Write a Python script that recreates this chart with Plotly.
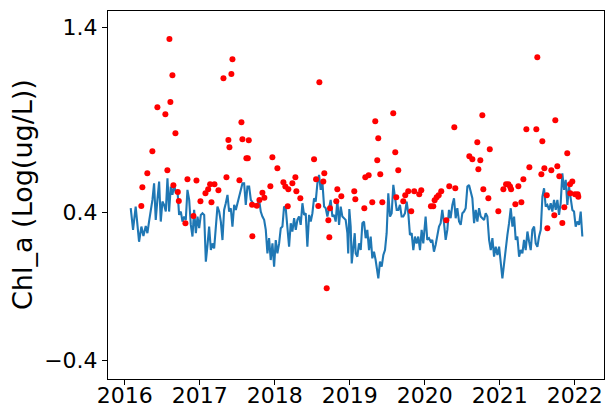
import pandas as pd
import plotly.graph_objects as go

# Blue line: time series (decimal year, value)
line_years = [
    2016.080, 2016.111, 2016.146, 2016.191, 2016.222, 2016.249, 2016.280, 2016.302, 2016.324, 2016.347,
    2016.369, 2016.391, 2016.413, 2016.435, 2016.458, 2016.480, 2016.502, 2016.524, 2016.547, 2016.569,
    2016.591, 2016.613, 2016.635, 2016.658, 2016.680, 2016.702, 2016.724, 2016.747, 2016.769, 2016.791,
    2016.813, 2016.835, 2016.858, 2016.880, 2016.902, 2016.924, 2016.947, 2016.969, 2016.991,
    2017.013, 2017.035, 2017.058, 2017.080, 2017.102, 2017.124, 2017.147, 2017.169, 2017.191, 2017.213,
    2017.235, 2017.258, 2017.280, 2017.302, 2017.324, 2017.346, 2017.369, 2017.391, 2017.413, 2017.435,
    2017.458, 2017.480, 2017.502, 2017.524, 2017.546, 2017.569, 2017.591, 2017.613, 2017.635, 2017.658,
    2017.680, 2017.702, 2017.724, 2017.746, 2017.769, 2017.791, 2017.813, 2017.835, 2017.858, 2017.880,
    2017.902, 2017.924, 2017.946, 2017.969,
    2017.991, 2018.013, 2018.035, 2018.058, 2018.080, 2018.102, 2018.124, 2018.146, 2018.169, 2018.191,
    2018.213, 2018.235, 2018.258, 2018.280, 2018.302, 2018.324, 2018.346, 2018.369, 2018.391, 2018.413,
    2018.435, 2018.458, 2018.480, 2018.502, 2018.524, 2018.546, 2018.569, 2018.591, 2018.613, 2018.635,
    2018.658, 2018.680, 2018.702, 2018.724, 2018.746, 2018.769, 2018.791, 2018.813, 2018.835, 2018.858,
    2018.880, 2018.902, 2018.924, 2018.946, 2018.969, 2018.980, 2018.995,
    2019.013, 2019.027, 2019.044, 2019.067, 2019.080, 2019.102, 2019.124, 2019.147, 2019.169, 2019.191,
    2019.213, 2019.235, 2019.258, 2019.280, 2019.302, 2019.324, 2019.346, 2019.369, 2019.382, 2019.404,
    2019.427, 2019.449, 2019.471, 2019.493, 2019.515, 2019.538, 2019.560, 2019.582, 2019.604, 2019.627,
    2019.649, 2019.671, 2019.693, 2019.715, 2019.738, 2019.760, 2019.782, 2019.804, 2019.827, 2019.849,
    2019.871, 2019.893, 2019.915, 2019.938, 2019.960, 2019.982,
    2020.013, 2020.035, 2020.058, 2020.080, 2020.102, 2020.124, 2020.146, 2020.169, 2020.191, 2020.213,
    2020.235, 2020.258, 2020.280, 2020.302, 2020.324, 2020.346, 2020.369, 2020.391, 2020.413, 2020.435,
    2020.458, 2020.480, 2020.502, 2020.524, 2020.546, 2020.569, 2020.591, 2020.613, 2020.635, 2020.658,
    2020.680, 2020.702, 2020.724, 2020.746, 2020.769, 2020.791, 2020.813, 2020.835, 2020.858, 2020.880,
    2020.902, 2020.924, 2020.946, 2020.969,
    2020.991, 2021.013, 2021.035, 2021.058, 2021.080, 2021.102, 2021.124, 2021.147, 2021.169, 2021.191,
    2021.213, 2021.235, 2021.258, 2021.280, 2021.302, 2021.324, 2021.346, 2021.369, 2021.391, 2021.413,
    2021.435, 2021.458, 2021.480, 2021.502, 2021.524, 2021.547, 2021.569, 2021.591, 2021.613, 2021.635,
    2021.658, 2021.680, 2021.702, 2021.724, 2021.747, 2021.769, 2021.791, 2021.813, 2021.835, 2021.858,
    2021.880, 2021.902, 2021.924, 2021.947, 2021.969, 2021.991, 2022.013, 2022.035, 2022.058, 2022.080,
    2022.102,
]
line_vals = [
    0.424, 0.307, 0.433, 0.243, 0.325, 0.274, 0.328, 0.289, 0.352, 0.415,
    0.469, 0.559, 0.361, 0.469, 0.568, 0.352, 0.460, 0.442, 0.406, 0.586,
    0.406, 0.541, 0.496, 0.550, 0.505, 0.523, 0.388, 0.406, 0.352, 0.379,
    0.361, 0.523, 0.469, 0.334, 0.271, 0.415, 0.289, 0.379, 0.316,
    0.388, 0.397, 0.388, 0.135, 0.225, 0.325, 0.198, 0.234, 0.207, 0.325,
    0.433, 0.406, 0.352, 0.252, 0.415, 0.451, 0.496, 0.406, 0.424, 0.325,
    0.442, 0.415, 0.451, 0.478, 0.523, 0.559, 0.559, 0.442, 0.541, 0.541,
    0.469, 0.451, 0.442, 0.433, 0.442, 0.469, 0.406, 0.379, 0.361, 0.307,
    0.180, 0.262, 0.144, 0.234,
    0.108, 0.252, 0.180, 0.234, 0.316, 0.325, 0.433, 0.424, 0.316, 0.216,
    0.343, 0.298, 0.370, 0.307, 0.361, 0.379, 0.334, 0.451, 0.388, 0.397,
    0.216, 0.388, 0.352, 0.397, 0.478, 0.460, 0.559, 0.604, 0.523, 0.568,
    0.433, 0.424, 0.379, 0.424, 0.469, 0.379, 0.388, 0.352, 0.469, 0.334,
    0.433, 0.379, 0.370, 0.361, 0.289, 0.180, 0.420,
    0.325, 0.126, 0.216, 0.289, 0.180, 0.162, 0.234, 0.198, 0.343, 0.352,
    0.262, 0.307, 0.198, 0.271, 0.153, 0.189, 0.144, 0.090, 0.045, 0.135,
    0.108, 0.171, 0.198, 0.289, 0.505, 0.379, 0.397, 0.550, 0.487, 0.415,
    0.415, 0.442, 0.379, 0.379, 0.397, 0.460, 0.397, 0.280, 0.289, 0.198,
    0.271, 0.234, 0.271, 0.198, 0.307, 0.234,
    0.379, 0.253, 0.262, 0.244, 0.253, 0.189, 0.225, 0.289, 0.325, 0.343,
    0.415, 0.343, 0.253, 0.307, 0.415, 0.370, 0.442, 0.478, 0.370, 0.424,
    0.352, 0.334, 0.397, 0.406, 0.424, 0.541, 0.550, 0.514, 0.478, 0.343,
    0.415, 0.352, 0.424, 0.379, 0.370, 0.361, 0.397, 0.379, 0.253, 0.198,
    0.262, 0.162, 0.216, 0.171,
    0.216, 0.126, 0.045, 0.126, 0.216, 0.280, 0.343, 0.424, 0.325, 0.379,
    0.253, 0.271, 0.162, 0.198, 0.180, 0.253, 0.198, 0.298, 0.244, 0.198,
    0.307, 0.325, 0.234, 0.216, 0.271, 0.307, 0.487, 0.532, 0.433, 0.442,
    0.415, 0.451, 0.406, 0.469, 0.415, 0.469, 0.388, 0.451, 0.613, 0.523,
    0.577, 0.442, 0.541, 0.478, 0.415, 0.406, 0.325, 0.352, 0.334, 0.406,
    0.271,
]

# Red dots: observations (decimal year, value)
obs_years = [
    2016.221, 2016.235, 2016.301, 2016.368, 2016.435, 2016.541, 2016.568, 2016.595, 2016.608, 2016.635,
    2016.648, 2016.675, 2016.707, 2016.720, 2016.808, 2016.835, 2016.915, 2016.955, 2017.008, 2017.075,
    2017.111, 2017.137, 2017.155, 2017.195, 2017.248, 2017.315, 2017.355, 2017.381, 2017.395, 2017.421,
    2017.435, 2017.528, 2017.555, 2017.568, 2017.621, 2017.640, 2017.653, 2017.697, 2017.701, 2017.760,
    2017.795, 2017.835, 2017.861, 2017.941, 2017.968, 2018.035, 2018.115, 2018.141, 2018.173, 2018.181,
    2018.235, 2018.275, 2018.288, 2018.341, 2018.524, 2018.551, 2018.581, 2018.595, 2018.648, 2018.661,
    2018.693, 2018.715, 2018.728, 2018.737, 2018.821, 2018.835, 2018.888, 2019.061, 2019.075, 2019.195,
    2019.208, 2019.253, 2019.301, 2019.341, 2019.368, 2019.381, 2019.408, 2019.435, 2019.581, 2019.608,
    2019.621, 2019.648, 2019.715, 2019.741, 2019.781, 2019.821, 2019.861, 2019.928, 2019.955, 2020.084,
    2020.115, 2020.133, 2020.160, 2020.187, 2020.221, 2020.288, 2020.328, 2020.395, 2020.408, 2020.595,
    2020.635, 2020.701, 2020.715, 2020.741, 2020.768, 2020.781, 2020.848, 2020.867, 2020.981, 2021.048,
    2021.084, 2021.115, 2021.137, 2021.151, 2021.208, 2021.248, 2021.288, 2021.315, 2021.355, 2021.395,
    2021.488, 2021.501, 2021.555, 2021.568, 2021.595, 2021.627, 2021.635, 2021.688, 2021.728, 2021.741,
    2021.768, 2021.795, 2021.835, 2021.861, 2021.901, 2021.937, 2021.941, 2021.968, 2022.004, 2022.040,
    2022.048,
]
obs_vals = [
    0.436, 0.537, 0.613, 0.732, 0.970, 0.932, 0.629, 1.339, 0.998, 1.143,
    0.548, 0.829, 0.512, 0.463, 0.343, 0.581, 0.382, 0.574, 0.462, 0.505,
    0.526, 0.553, 0.456, 0.553, 0.521, 1.126, 0.591, 0.793, 0.754, 1.150,
    1.229, 0.575, 0.889, 0.797, 0.694, 0.694, 0.791, 0.443, 0.272, 0.438,
    0.469, 0.508, 0.481, 0.543, 0.699, 0.640, 0.564, 0.541, 0.435, 0.526,
    0.559, 0.591, 0.516, 0.478, 0.689, 0.581, 0.436, 1.105, 0.568, 0.613,
    -0.009, 0.359, 0.267, 0.424, 0.462, 0.526, 0.489, 0.516, 0.472, 0.424,
    0.591, 0.602, 0.456, 0.894, 0.683, 0.802, 0.608, 0.456, 0.937, 0.726,
    0.483, 0.629, 0.462, 0.494, 0.516, 0.408, 0.516, 0.499, 0.521, 0.435,
    0.435, 0.467, 0.483, 0.494, 0.516, 0.359, 0.543, 0.862, 0.532, 0.705,
    0.689, 0.781, 0.635, 0.683, 0.926, 0.526, 0.478, 0.743, 0.408, 0.526,
    0.553, 0.553, 0.541, 0.526, 0.445, 0.543, 0.456, 0.581, 0.851, 0.645,
    0.851, 1.240, 0.608, 0.786, 0.640, 0.494, 0.316, 0.629, 0.386, 0.899,
    0.651, 0.597, 0.344, 0.429, 0.721, 0.553, 0.505, 0.568, 0.499, 0.499,
    0.486,
]

year_ticks = [2016, 2017, 2018, 2019, 2020, 2021, 2022]
y_ticks = [-0.4, 0.4, 1.4]
y_ticktext = ["\u22120.4", "0.4", "1.4"]
y_title = "Chl_a (Log(ug/L))"


def to_date(y):
    yr = int(y)
    start = pd.Timestamp(yr, 1, 1)
    end = pd.Timestamp(yr + 1, 1, 1)
    return start + (end - start) * (y - yr)


line_dates = [to_date(v) for v in line_years]
obs_dates = [to_date(v) for v in obs_years]
tick_dates = [pd.Timestamp(y, 1, 1) for y in year_ticks]

fig = go.Figure()
fig.add_trace(go.Scatter(x=line_dates, y=line_vals, mode="lines",
                         line=dict(color="#1f77b4", width=2.1), showlegend=False))
fig.add_trace(go.Scatter(x=obs_dates, y=obs_vals, mode="markers",
                         marker=dict(color="red", size=6, line=dict(width=0)),
                         showlegend=False))

font = dict(family="DejaVu Sans", size=22, color="black")
fig.update_layout(
    width=614, height=419,
    margin=dict(l=108, r=10, t=11, b=40, autoexpand=False),
    plot_bgcolor="white", paper_bgcolor="white",
    font=font,
    xaxis=dict(
        range=[to_date(2015.777), to_date(2022.391)],
        tickvals=tick_dates, ticktext=[str(y) for y in year_ticks],
        showgrid=False, zeroline=False, automargin=False,
        showline=True, linecolor="black", linewidth=1, mirror=True,
        ticks="outside", ticklen=5, tickwidth=1, tickcolor="black",
        tickfont=font, ticklabelstandoff=-8,
    ),
    yaxis=dict(
        range=[-0.499, 1.490],
        tickvals=y_ticks, ticktext=y_ticktext,
        showgrid=False, zeroline=False, automargin=False,
        showline=True, linecolor="black", linewidth=1, mirror=True,
        ticks="outside", ticklen=5, tickwidth=1, tickcolor="black",
        tickfont=font,
    ),
    annotations=[dict(
        text=y_title, textangle=-90, xref="paper", yref="paper",
        x=(22 - 108) / 496, y=0.5, xanchor="center", yanchor="middle",
        showarrow=False, font=dict(family="DejaVu Sans", size=27, color="black"),
    )],
)

fig.write_html("out.html")
